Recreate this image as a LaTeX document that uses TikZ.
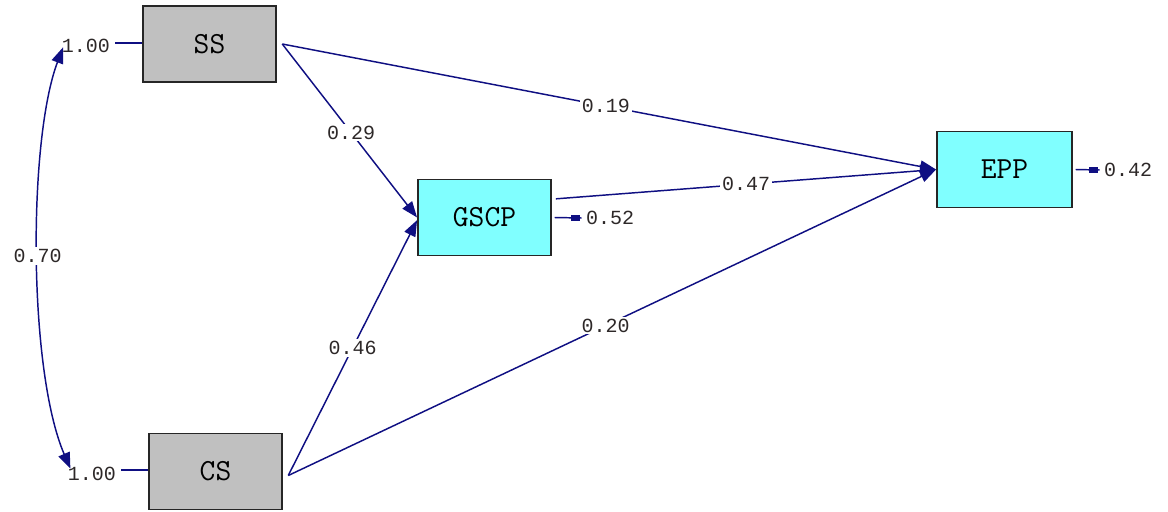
\documentclass[tikz,border=0pt]{standalone}
\usepackage{fontspec}
\newfontfamily\labfont{Liberation Mono}
\usetikzlibrary{arrows.meta}
\definecolor{pathblue}{RGB}{15,15,130}
\definecolor{boxgray}{RGB}{192,192,192}
\definecolor{boxcyan}{RGB}{128,255,255}
\definecolor{labgray}{RGB}{45,40,40}
\tikzset{
  obsbox/.style={draw=black!85, line width=1.4pt, minimum width=99.75pt, minimum height=57pt, inner sep=0pt, font=\fontsize{23}{23}\selectfont\ttfamily},
  exobox/.style={obsbox, fill=boxgray},
  endobox/.style={obsbox, fill=boxcyan},
  coef/.style={fill=white, inner sep=1.5pt, text=labgray, font=\fontsize{15}{15}\selectfont\labfont},
  errlab/.style={inner sep=0pt, text=labgray, font=\fontsize{15}{15}\selectfont\labfont},
  path/.style={draw=pathblue, line width=1.1pt, -{Triangle[length=12pt,width=9pt]}},
  plain/.style={draw=pathblue, line width=1.1pt},
}
\begin{document}
\begin{tikzpicture}[x=0.75pt,y=-0.75pt]
\useasboundingbox (0,0) rectangle (1168,511);
% boxes
\node[exobox] (ss) at (209.5,44) {SS};
\node[exobox] (cs) at (215.5,471.5) {CS};
\node[endobox] (gscp) at (484.5,217.5) {GSCP};
\node[endobox, minimum width=101.25pt] (epp) at (1004.5,169.5) {EPP};
% variance labels
\node[errlab] (v1) at (86,46) {1.00};
\node[errlab] (v2) at (92,474) {1.00};
\draw[plain] (v1.east) ++(5,-3) -- (ss.west |- 0,43);
\draw[plain] (v2.east) ++(5,-4) -- (cs.west |- 0,470);
% covariance
\draw[plain, {Triangle[length=12pt,width=9pt]}-{Triangle[length=12pt,width=9pt]}]
  ([xshift=1pt,yshift=-1pt]v1.west) .. controls (28,140) and (28,370) .. ([xshift=2pt,yshift=4pt]v2.west)
  node[coef, pos=0.5] {0.70};
% paths
\draw[path] ([xshift=4pt]ss.east) -- (gscp.west) node[coef, pos=0.51] {0.29};
\draw[path] ([xshift=4pt]ss.east) -- (epp.west) node[coef, pos=0.495] {0.19};
\draw[path] ([xshift=4pt,yshift=-3pt]cs.east) -- ([yshift=-2pt]gscp.west) node[coef, pos=0.5] {0.46};
\draw[path] ([xshift=4pt,yshift=-3pt]cs.east) -- (epp.west) node[coef, pos=0.49] {0.20};
\draw[path] ([xshift=3pt,yshift=14pt]gscp.east) -- (epp.west) node[coef, pos=0.5] {0.47};
% error terms
\node[errlab] (e1) at (610,218) {0.52};
\node[errlab] (e2) at (1128,170) {0.42};
\draw[plain] ([xshift=2pt]gscp.east) -- ([xshift=-3pt]e1.west);
\draw[pathblue, line width=4.5pt] ([xshift=-11pt]e1.west) -- ([xshift=-4pt]e1.west);
\draw[plain] ([xshift=2pt]epp.east) -- ([xshift=-3pt]e2.west);
\draw[pathblue, line width=4.5pt] ([xshift=-11pt]e2.west) -- ([xshift=-4pt]e2.west);
\end{tikzpicture}
\end{document}
